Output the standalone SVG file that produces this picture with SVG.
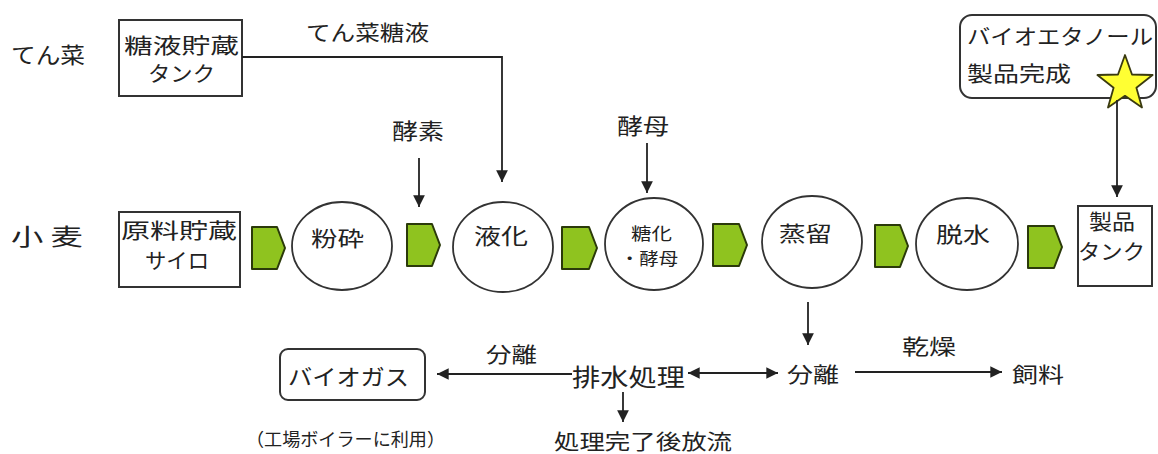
<svg xmlns="http://www.w3.org/2000/svg" width="1158" height="454" viewBox="0 0 1158 454">
<style>
text{font-family:"Noto Sans CJK JP","Noto Sans CJK SC",sans-serif;fill:#222;}
.box{fill:#fff;stroke:#333;stroke-width:2;}
.proc{fill:#fff;stroke:#333;stroke-width:1.8;}
.flow{fill:#8fc31f;stroke:#2b3a0a;stroke-width:2;stroke-linejoin:round;}
.ln{fill:none;stroke:#222;stroke-width:1.8;}
</style>
<defs>
<marker id="ah" viewBox="0 0 10 10" refX="10" refY="5" markerWidth="6.5" markerHeight="6.5" orient="auto-start-reverse" markerUnits="strokeWidth">
<path d="M0,0 L10,5 L0,10 z" fill="#222"/>
</marker>
</defs>

<g id="label-tensai"><text x="11" y="63" font-size="22" textLength="74" lengthAdjust="spacingAndGlyphs">てん菜</text></g>
<g id="label-komugi"><text x="11" y="245" font-size="23" textLength="72" lengthAdjust="spacingAndGlyphs">小 麦</text></g>

<g id="node-sugar-tank">
<rect class="box" x="119" y="20" width="123" height="76"/>
<text x="124" y="53" font-size="21" textLength="115" lengthAdjust="spacingAndGlyphs">糖液貯蔵</text>
<text x="148" y="81" font-size="21" textLength="67" lengthAdjust="spacingAndGlyphs">タンク</text>
</g>

<g id="node-silo">
<rect class="box" x="119" y="212" width="121" height="75"/>
<text x="121" y="238" font-size="21" textLength="116" lengthAdjust="spacingAndGlyphs">原料貯蔵</text>
<text x="145" y="268" font-size="21" textLength="64" lengthAdjust="spacingAndGlyphs">サイロ</text>
</g>

<g id="node-funsai">
<ellipse class="proc" cx="342" cy="246" rx="50" ry="44"/>
<text x="311" y="246" font-size="21" textLength="53" lengthAdjust="spacingAndGlyphs">粉砕</text>
</g>
<g id="node-ekika">
<ellipse class="proc" cx="503" cy="247" rx="50" ry="45"/>
<text x="474" y="244" font-size="22" textLength="54" lengthAdjust="spacingAndGlyphs">液化</text>
</g>
<g id="node-toka">
<ellipse class="proc" cx="654" cy="244" rx="49" ry="46"/>
<text x="631" y="240" font-size="17" textLength="41" lengthAdjust="spacingAndGlyphs">糖化</text>
<text x="620" y="265" font-size="17" textLength="58" lengthAdjust="spacingAndGlyphs">・酵母</text>
</g>
<g id="node-joryu">
<ellipse class="proc" cx="812" cy="242" rx="50" ry="46"/>
<text x="779" y="241" font-size="21" textLength="53" lengthAdjust="spacingAndGlyphs">蒸留</text>
</g>
<g id="node-dassui">
<ellipse class="proc" cx="967" cy="244" rx="51" ry="46"/>
<text x="936" y="242" font-size="21" textLength="54" lengthAdjust="spacingAndGlyphs">脱水</text>
</g>

<g id="node-product-tank">
<rect class="box" x="1078" y="206" width="74" height="80"/>
<text x="1089" y="229" font-size="21" textLength="46" lengthAdjust="spacingAndGlyphs">製品</text>
<text x="1078" y="259" font-size="21" textLength="67" lengthAdjust="spacingAndGlyphs">タンク</text>
</g>

<g id="node-complete">
<rect class="box" x="960" y="15" width="196" height="83" rx="12" ry="12"/>
<text x="967" y="44" font-size="21" textLength="186" lengthAdjust="spacingAndGlyphs">バイオエタノール</text>
<text x="967" y="81" font-size="21" textLength="104" lengthAdjust="spacingAndGlyphs">製品完成</text>
<polygon points="1125,55 1132,74.5 1152.6,75 1136.4,87.8 1142,107.5 1125,95.8 1108,107.5 1113.6,87.8 1097.4,75 1118,74.5" fill="#ffff33" stroke="#3a3a10" stroke-width="1.8" stroke-linejoin="round"/>
</g>

<g id="node-biogas">
<rect class="box" x="280" y="349" width="145" height="51" rx="8" ry="8"/>
<text x="288" y="385" font-size="22" textLength="121" lengthAdjust="spacingAndGlyphs">バイオガス</text>
</g>
<g id="node-haisui"><text x="572" y="386" font-size="24" textLength="113" lengthAdjust="spacingAndGlyphs">排水処理</text></g>
<g id="node-bunri"><text x="787" y="382" font-size="21" textLength="52" lengthAdjust="spacingAndGlyphs">分離</text></g>
<g id="node-shiryo"><text x="1012" y="382" font-size="21" textLength="52" lengthAdjust="spacingAndGlyphs">飼料</text></g>
<g id="node-horyu"><text x="554" y="449" font-size="21" textLength="178" lengthAdjust="spacingAndGlyphs">処理完了後放流</text></g>
<g id="note-boiler"><text x="246" y="446" font-size="18" textLength="199" lengthAdjust="spacingAndGlyphs">（工場ボイラーに利用）</text></g>

<g id="flow-markers">
<polygon class="flow" points="252,227 277,227 285,248 277,269 252,269"/>
<polygon class="flow" points="407,224 432,224 440,245 432,266 407,266"/>
<polygon class="flow" points="562,227 589,227 597,248 589,269 562,269"/>
<polygon class="flow" points="713,224 739,224 747,245 739,266 713,266"/>
<polygon class="flow" points="875,225 900,225 908,246 900,267 875,267"/>
<polygon class="flow" points="1028,226 1054,226 1062,247 1054,268 1028,268"/>
</g>

<g id="connectors">
<polyline class="ln" points="242,57 502,57 502,182" marker-end="url(#ah)"/>
<line class="ln" x1="419" y1="158" x2="419" y2="207" marker-end="url(#ah)"/>
<line class="ln" x1="647" y1="143" x2="647" y2="193" marker-end="url(#ah)"/>
<line class="ln" x1="1117" y1="100" x2="1117" y2="197" marker-end="url(#ah)"/>
<line class="ln" x1="808" y1="302" x2="808" y2="345" marker-end="url(#ah)"/>
<line class="ln" x1="572" y1="374" x2="437" y2="374" marker-end="url(#ah)"/>
<line class="ln" x1="688" y1="373" x2="778" y2="373" marker-start="url(#ah)" marker-end="url(#ah)"/>
<line class="ln" x1="855" y1="372" x2="1002" y2="372" marker-end="url(#ah)"/>
<line class="ln" x1="623" y1="392" x2="623" y2="422" marker-end="url(#ah)"/>
</g>

<g id="connector-labels">
<text x="306" y="40" font-size="21" textLength="123" lengthAdjust="spacingAndGlyphs">てん菜糖液</text>
<text x="392" y="139" font-size="22" textLength="52" lengthAdjust="spacingAndGlyphs">酵素</text>
<text x="617" y="134" font-size="22" textLength="52" lengthAdjust="spacingAndGlyphs">酵母</text>
<text x="486" y="362" font-size="21" textLength="51" lengthAdjust="spacingAndGlyphs">分離</text>
<text x="902" y="354" font-size="21" textLength="54" lengthAdjust="spacingAndGlyphs">乾燥</text>
</g>
</svg>
